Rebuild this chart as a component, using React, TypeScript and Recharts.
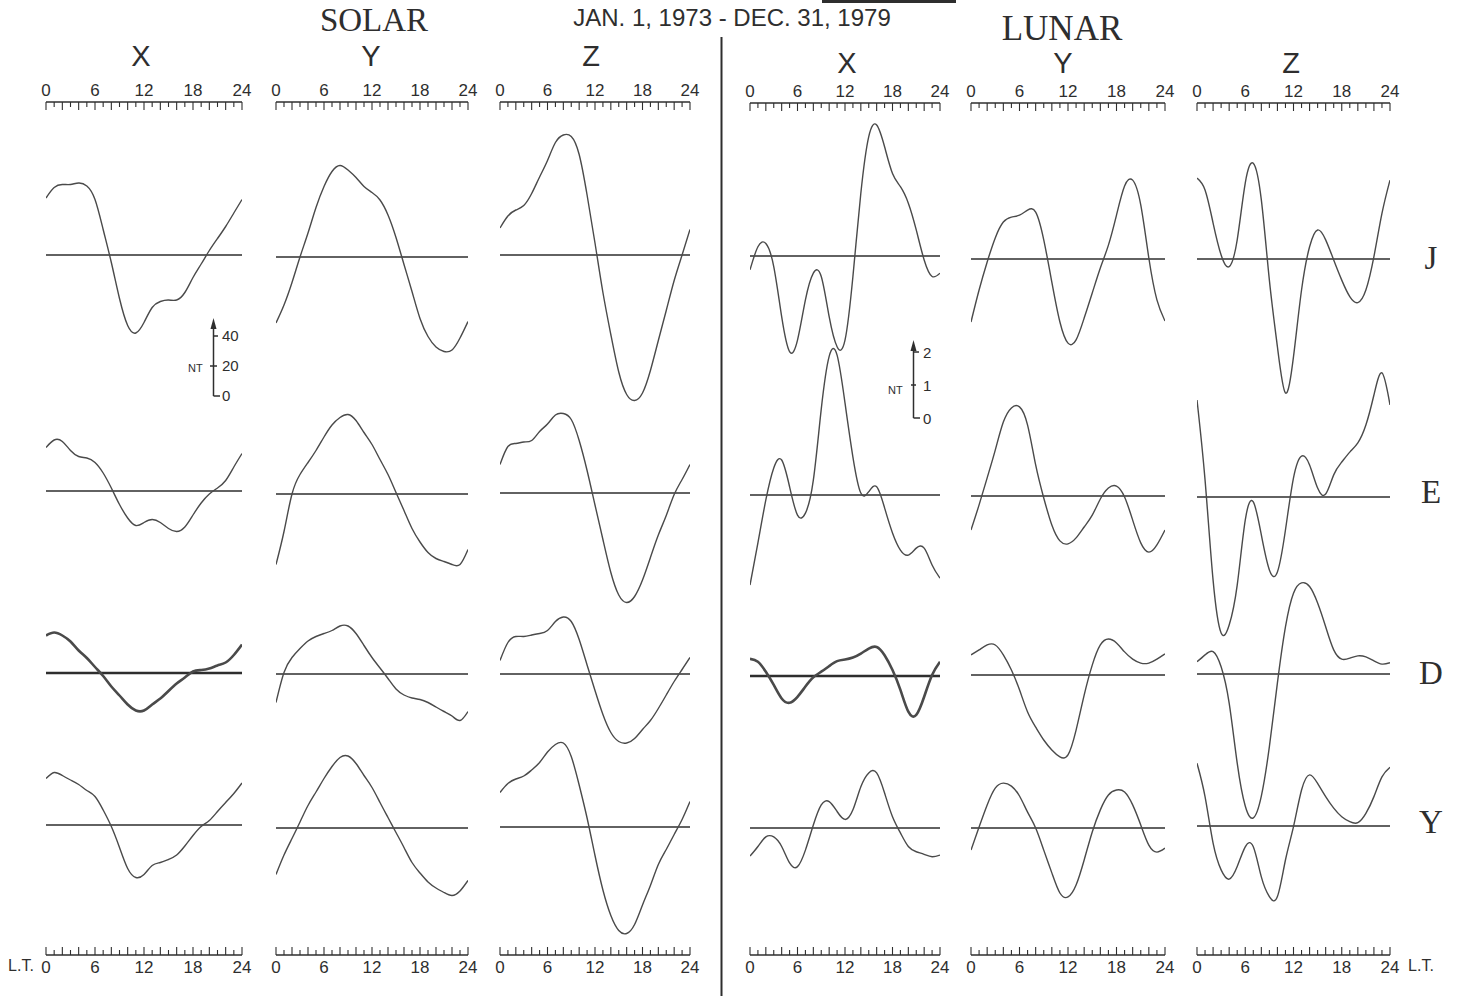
import { LineChart, Line, XAxis, YAxis, ReferenceLine } from "recharts"

const hours = [0, 1, 2, 3, 4, 5, 6, 7, 8, 9, 10, 11, 12, 13, 14, 15, 16, 17, 18, 19, 20, 21, 22, 23, 24]
const labelHours = [0, 6, 12, 18, 24]
const components = ["X", "Y", "Z"]
const seasons = ["J", "E", "D", "Y"]

// solar daily variation (nT), hourly local time 0..24
const solarXJ = [38, 45, 47, 47, 48, 46, 37, 17, -5, -29, -47, -52, -45, -35, -31, -30, -30, -25, -15, -6, 3, 11, 19, 28, 37]
const solarYJ = [-44, -32, -17, 0, 16, 33, 47, 57, 61, 58, 53, 47, 43, 38, 28, 13, -5, -23, -41, -53, -60, -63, -62, -54, -43]
const solarZJ = [18, 26, 30, 33, 41, 52, 63, 75, 80, 79, 67, 40, 8, -25, -53, -78, -93, -97, -92, -77, -57, -37, -17, 0, 17]
const solarXE = [29, 34, 33, 27, 23, 22, 19, 12, 2, -9, -18, -23, -21, -19, -21, -25, -27, -24, -16, -8, -2, 2, 7, 16, 25]
const solarYE = [-47, -25, 0, 13, 21, 29, 38, 46, 51, 53, 49, 41, 33, 23, 13, 1, -11, -23, -32, -39, -43, -45, -47, -47, -37]
const solarZE = [19, 31, 33, 34, 35, 41, 46, 52, 53, 49, 35, 15, -8, -31, -53, -68, -73, -69, -58, -43, -28, -15, -1, 9, 19]
const solarXD = [25, 27, 25, 21, 15, 10, 4, -2, -9, -15, -21, -25, -25, -21, -17, -12, -7, -3, 1, 2, 3, 5, 7, 12, 19]
const solarYD = [-19, 1, 11, 17, 22, 25, 27, 29, 32, 32, 27, 19, 11, 4, -3, -10, -14, -16, -17, -19, -22, -25, -28, -31, -25]
const solarZD = [9, 21, 25, 25, 26, 27, 29, 35, 38, 35, 23, 6, -11, -27, -39, -45, -46, -43, -37, -31, -23, -14, -5, 3, 11]
const solarXY = [31, 35, 33, 30, 27, 23, 19, 10, -1, -15, -29, -35, -33, -27, -25, -23, -20, -14, -7, -1, 3, 9, 15, 21, 28]
const solarYY = [-31, -18, -7, 4, 15, 24, 33, 41, 47, 48, 43, 35, 27, 17, 7, -3, -13, -23, -30, -36, -40, -43, -45, -42, -35]
const solarZY = [23, 29, 32, 34, 38, 43, 50, 55, 56, 47, 28, 6, -19, -42, -59, -69, -71, -65, -52, -39, -25, -15, -5, 5, 17]

// lunar variation (nT)
const lunarXJ = [-0.42, 0.28, 0.38, -0.32, -1.84, -2.9, -2.55, -1.33, -0.52, -0.62, -1.84, -2.75, -2.55, -0.62, 1.9, 3.62, 3.97, 3.31, 2.5, 2.1, 1.6, 0.79, -0.12, -0.62, -0.52]
const lunarYJ = [-1.91, -0.94, -0.09, 0.64, 1.12, 1.27, 1.33, 1.48, 1.42, 0.58, -0.7, -1.91, -2.55, -2.45, -1.79, -1.03, -0.27, 0.42, 1.33, 2.21, 2.39, 1.64, 0.03, -1.24, -1.88]
const lunarZJ = [2.45, 2.09, 1.09, 0.12, -0.23, 0.58, 2.3, 2.9, 1.79, -0.64, -2.66, -4.06, -2.96, -0.94, 0.37, 0.88, 0.58, -0.03, -0.64, -1.14, -1.32, -0.94, 0.07, 1.38, 2.39]
const lunarXE = [-2.73, -1.45, -0.15, 0.82, 1.06, 0.25, -0.61, -0.55, 0.45, 2.6, 4.2, 4.24, 2.79, 1.15, 0.06, 0.1, 0.25, -0.39, -1.15, -1.67, -1.82, -1.61, -1.61, -2.12, -2.52]
const lunarYE = [-1.03, -0.27, 0.55, 1.39, 2.24, 2.67, 2.7, 2.15, 0.94, -0.06, -0.88, -1.36, -1.45, -1.27, -0.94, -0.58, -0.09, 0.24, 0.3, -0.03, -0.73, -1.42, -1.7, -1.48, -1.03]
const lunarZE = [2.94, 0.52, -2.52, -4.12, -3.88, -2.67, -0.7, -0.15, -1.15, -2.21, -2.27, -1.0, 0.58, 1.24, 0.97, 0.27, 0.09, 0.67, 1.06, 1.36, 1.64, 2.18, 3.09, 3.76, 2.79]
const lunarXD = [0.52, 0.43, 0.13, -0.27, -0.68, -0.81, -0.63, -0.32, -0.04, 0.13, 0.3, 0.45, 0.5, 0.56, 0.68, 0.83, 0.88, 0.63, 0.18, -0.42, -1.08, -1.18, -0.63, 0.03, 0.43]
const lunarYD = [0.61, 0.76, 0.91, 0.91, 0.61, 0.15, -0.45, -1.12, -1.58, -1.97, -2.27, -2.48, -2.42, -1.67, -0.61, 0.3, 0.91, 1.09, 0.97, 0.7, 0.48, 0.36, 0.36, 0.48, 0.64]
const lunarZD = [0.37, 0.58, 0.68, 0.22, -0.88, -2.7, -4.0, -4.36, -3.7, -2.2, -0.27, 1.43, 2.45, 2.76, 2.65, 2.15, 1.43, 0.73, 0.45, 0.48, 0.55, 0.52, 0.4, 0.3, 0.34]
const lunarXY = [-0.85, -0.56, -0.27, -0.27, -0.56, -1.06, -1.17, -0.67, 0.09, 0.7, 0.8, 0.5, 0.26, 0.55, 1.25, 1.67, 1.67, 1.06, 0.34, -0.15, -0.56, -0.72, -0.8, -0.87, -0.82]
const lunarYY = [-0.67, 0.03, 0.7, 1.21, 1.36, 1.27, 0.97, 0.48, 0, -0.67, -1.36, -1.97, -2.09, -1.73, -0.97, -0.12, 0.55, 1.0, 1.15, 1.09, 0.7, 0.09, -0.52, -0.73, -0.61]
const lunarZY = [1.9, 0.89, -0.52, -1.33, -1.61, -1.23, -0.63, -0.63, -1.54, -2.14, -2.14, -1.03, -0.02, 1.09, 1.55, 1.29, 0.89, 0.54, 0.28, 0.13, 0.1, 0.38, 0.89, 1.49, 1.78]

// rows J, E, D, Y ; columns solar X Y Z, lunar X Y Z
const grid = [
  [solarXJ, solarYJ, solarZJ, lunarXJ, lunarYJ, lunarZJ],
  [solarXE, solarYE, solarZE, lunarXE, lunarYE, lunarZE],
  [solarXD, solarYD, solarZD, lunarXD, lunarYD, lunarZD],
  [solarXY, solarYY, solarZY, lunarXY, lunarYY, lunarZY],
]

const INK = "#2e2e2e"
const CURVE = "#4a4a4a"
const SANS = '"Liberation Sans", Arial, sans-serif'
const SERIF = '"Liberation Serif", "Times New Roman", serif'

const PANEL_H = 400
const SOLAR_PX = 1.5 // px per nT
const LUNAR_PX = 33

const cols = [
  { x: 46, w: 196 },
  { x: 276, w: 192 },
  { x: 500, w: 190 },
  { x: 750, w: 190 },
  { x: 971, w: 194 },
  { x: 1197, w: 193 },
]
const baselines = [
  [255, 257, 255, 256, 259, 259],
  [491, 494, 493, 495, 496, 497],
  [673, 674, 674, 676, 675, 674],
  [825, 828, 827, 828, 828, 826],
]

function Panel({ x, w, base, values, scale, thick }: { x: number; w: number; base: number; values: number[]; scale: number; thick: boolean }) {
  const data = hours.map((h, i) => ({ h, v: values[i] }))
  const half = PANEL_H / 2
  return (
    <div style={{ position: "absolute", left: x, top: base - half }}>
      <LineChart width={w} height={PANEL_H} data={data} margin={{ top: 0, right: 0, bottom: 0, left: 0 }}>
        <XAxis dataKey="h" type="number" domain={[0, 24]} hide />
        <YAxis type="number" domain={[-half / scale, half / scale]} hide width={0} />
        <ReferenceLine y={0} stroke={INK} strokeWidth={thick ? 2.6 : 1.7} />
        <Line
          dataKey="v"
          type="natural"
          stroke={CURVE}
          strokeWidth={thick ? 2.6 : 1.4}
          dot={false}
          isAnimationActive={false}
        />
      </LineChart>
    </div>
  )
}

function HourAxis({ x, w, y, top }: { x: number; w: number; y: number; top: boolean }) {
  const pad = 18
  const h = 40
  const lineAt = top ? 26 : 12
  const data = hours.map((hr) => ({ hr }))
  const renderTick = (props: any) => {
    const tx = props.x
    const v = props.payload.value
    const len = v % 2 === 0 ? 8 : 5
    const dir = top ? 1 : -1
    return (
      <g>
        <line x1={tx} x2={tx} y1={lineAt} y2={lineAt + dir * len} stroke={INK} strokeWidth={1.1} />
        {labelHours.includes(v) && (
          <text
            x={tx}
            y={top ? lineAt - 6 : lineAt + 18}
            textAnchor="middle"
            fontSize={17}
            fill={INK}
            fontFamily={SANS}
          >
            {v}
          </text>
        )}
      </g>
    )
  }
  return (
    <div style={{ position: "absolute", left: x - pad, top: y - lineAt }}>
      <LineChart width={w + 2 * pad} height={h} data={data} margin={{ top: 0, right: pad, bottom: 0, left: pad }}>
        <XAxis
          dataKey="hr"
          type="number"
          domain={[0, 24]}
          ticks={hours}
          interval={0}
          orientation={top ? "top" : "bottom"}
          height={top ? lineAt : h - lineAt}
          tickLine={false}
          axisLine={{ stroke: INK, strokeWidth: 1.6 }}
          tick={renderTick}
        />
        <YAxis hide width={0} domain={[0, 1]} />
      </LineChart>
    </div>
  )
}

function Label({ text, cx, cy, style }: { text: string; cx: number; cy: number; style: any }) {
  return (
    <div
      style={{
        position: "absolute",
        left: cx,
        top: cy,
        transform: "translate(-50%, -50%)",
        whiteSpace: "nowrap",
        lineHeight: 1,
        color: INK,
        ...style,
      }}
    >
      {text}
    </div>
  )
}

const headX = [141, 371, 591, 847, 1063, 1291]
const headY = [56, 56, 56, 63, 63, 63]
const rowLabelY = [258, 492, 673, 822]

export default function App() {
  return (
    <div
      style={{
        position: "absolute",
        left: 0,
        top: 0,
        width: 1458,
        height: 996,
        background: "#fff",
        overflow: "hidden",
        fontFamily: SANS,
      }}
    >
      <Label text="SOLAR" cx={374} cy={20} style={{ fontFamily: SERIF, fontSize: 33 }} />
      <Label text="LUNAR" cx={1062} cy={28} style={{ fontFamily: SERIF, fontSize: 35 }} />
      <Label text="JAN. 1, 1973 - DEC. 31, 1979" cx={732} cy={18} style={{ fontSize: 24 }} />
      {cols.map((c, i) => (
        <Label key={"h" + i} text={components[i % 3]} cx={headX[i]} cy={headY[i]} style={{ fontSize: 29 }} />
      ))}
      {seasons.map((s, r) => (
        <Label key={s} text={s} cx={1431} cy={rowLabelY[r]} style={{ fontFamily: SERIF, fontSize: 33 }} />
      ))}
      <Label text="L.T." cx={21} cy={966} style={{ fontSize: 16 }} />
      <Label text="L.T." cx={1421} cy={966} style={{ fontSize: 16 }} />

      {cols.map((c, i) => (
        <HourAxis key={"t" + i} x={c.x} w={c.w} y={i < 3 ? 102 : 103} top={true} />
      ))}
      {cols.map((c, i) => (
        <HourAxis key={"b" + i} x={c.x} w={c.w} y={955} top={false} />
      ))}

      {grid.map((row, r) =>
        row.map((values, c) => (
          <Panel
            key={r + "-" + c}
            x={cols[c].x}
            w={cols[c].w}
            base={baselines[r][c]}
            values={values}
            scale={c < 3 ? SOLAR_PX : LUNAR_PX}
            thick={r === 2 && (c === 0 || c === 3)}
          />
        ))
      )}

      <svg width={1458} height={996} style={{ position: "absolute", left: 0, top: 0, pointerEvents: "none" }}>
        <rect x={822} y={0} width={134} height={3} fill={INK} />
        <line x1={721.5} x2={721.5} y1={37} y2={996} stroke={INK} strokeWidth={2} />
        {/* solar scale: 40 nT */}
        <g stroke={INK} strokeWidth={1.5} fill="none">
          <line x1={213.5} x2={213.5} y1={326} y2={396} />
          <polyline points="213.5,396 220,396" />
          <line x1={213.5} x2={218} y1={336} y2={336} />
          <line x1={210} x2={217} y1={366} y2={366} />
        </g>
        <polygon points="213.5,318 210.5,329 216.5,329" fill={INK} />
        <g fill={INK} fontFamily={SANS} fontSize={15}>
          <text x={222} y={341}>40</text>
          <text x={222} y={371}>20</text>
          <text x={222} y={401}>0</text>
          <text x={188} y={372} fontSize={11}>NT</text>
        </g>
        {/* lunar scale: 2 nT */}
        <g stroke={INK} strokeWidth={1.5} fill="none">
          <line x1={913.5} x2={913.5} y1={348} y2={418} />
          <polyline points="913.5,418 920,418" />
          <line x1={913.5} x2={919} y1={352} y2={352} />
          <line x1={911} x2={916} y1={385} y2={385} />
        </g>
        <polygon points="913.5,340 910.5,351 916.5,351" fill={INK} />
        <g fill={INK} fontFamily={SANS} fontSize={15}>
          <text x={923} y={358}>2</text>
          <text x={923} y={391}>1</text>
          <text x={923} y={424}>0</text>
          <text x={888} y={394} fontSize={11}>NT</text>
        </g>
      </svg>
    </div>
  )
}
